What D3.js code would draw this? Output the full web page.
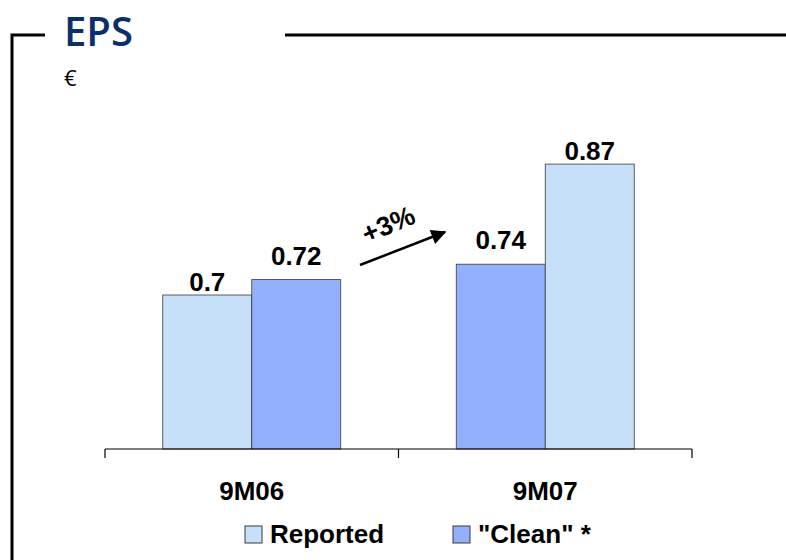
<!DOCTYPE html>
<html>
<head>
<meta charset="utf-8">
<script src="https://cdn.jsdelivr.net/npm/d3@7"></script>
<style>
  body { margin: 0; background: #fff; }
  svg { display: block; }
</style>
</head>
<body>
<script>
// chart data
var categories = ["9M06", "9M07"];
var seriesNames = ["Reported", "Clean"];
var legendLabels = ["Reported", "\"Clean\" *"];
var reported = [0.70, 0.87];
var clean = [0.72, 0.74];
var reportedText = ["0.7", "0.87"];
var cleanText = ["0.72", "0.74"];
// bar order inside each category, as drawn
var barOrder = [["Reported", "Clean"], ["Clean", "Reported"]];
var growthText = "+3%";

var svgWidth = 786;
var svgHeight = 560;

var colors = { Reported: "#c7e0f9", Clean: "#93b0fc" };
// gap between bar top and value label, per series
var labelGap = { Reported: 4, Clean: 15 };

var svg = d3.select("body")
  .append("svg")
  .attr("width", svgWidth)
  .attr("height", svgHeight);

// frame lines
svg.append("path")
  .attr("d", "M12,560 L12,35 L45,35")
  .attr("fill", "none")
  .attr("stroke", "#000")
  .attr("stroke-width", 3);
svg.append("line")
  .attr("x1", 285).attr("x2", 786)
  .attr("y1", 35).attr("y2", 35)
  .attr("stroke", "#000")
  .attr("stroke-width", 3);

// title
svg.append("text")
  .attr("x", 64)
  .attr("y", 46)
  .attr("font-family", "'Open Sans', sans-serif")
  .attr("font-weight", 600)
  .attr("font-size", 40)
  .attr("fill", "#0b2f6e")
  .text("EPS");

svg.append("text")
  .attr("x", 64)
  .attr("y", 86)
  .attr("font-family", "'Open Sans', sans-serif")
  .attr("font-size", 22)
  .attr("fill", "#000")
  .text("€");

// scales
var x = d3.scaleBand()
  .domain(categories)
  .range([105, 692])
  .padding(0);

var groupWidth = 178;
var xInner = d3.scaleBand()
  .domain([0, 1])
  .range([0, groupWidth]);

var y = d3.scaleLinear()
  .domain([0.5, 1.0])
  .range([449, 64]);

// build bars
var values = { Reported: reported, Clean: clean };
var texts = { Reported: reportedText, Clean: cleanText };
var bars = [];
categories.forEach(function(cat, i) {
  barOrder[i].forEach(function(s, j) {
    bars.push({
      cat: cat,
      series: s,
      pos: j,
      value: values[s][i],
      label: texts[s][i]
    });
  });
});

var font = "Arial, 'Liberation Sans', sans-serif";

function barX(d) {
  return x(d.cat) + x.bandwidth() / 2 - groupWidth / 2 + xInner(d.pos);
}

var barG = svg.append("g");
barG.selectAll("rect")
  .data(bars)
  .enter()
  .append("rect")
  .attr("x", barX)
  .attr("y", function(d) { return y(d.value); })
  .attr("width", xInner.bandwidth())
  .attr("height", function(d) { return y(0.5) - y(d.value); })
  .attr("fill", function(d) { return colors[d.series]; })
  .attr("stroke", "#3a3a3a")
  .attr("stroke-width", 0.8);

barG.selectAll("text")
  .data(bars)
  .enter()
  .append("text")
  .attr("x", function(d) { return barX(d) + xInner.bandwidth() / 2; })
  .attr("y", function(d) { return y(d.value) - labelGap[d.series]; })
  .attr("text-anchor", "middle")
  .attr("font-family", font)
  .attr("font-weight", "bold")
  .attr("font-size", 26)
  .text(function(d) { return d.label; });

// x axis: baseline and ticks at band edges
var axisG = svg.append("g");
axisG.append("line")
  .attr("x1", x.range()[0]).attr("x2", x.range()[1])
  .attr("y1", y(0.5)).attr("y2", y(0.5))
  .attr("stroke", "#000")
  .attr("stroke-width", 1.2);
var tickXs = categories.map(function(c) { return x(c); }).concat([x.range()[1]]);
axisG.selectAll("line.tick")
  .data(tickXs)
  .enter()
  .append("line")
  .attr("class", "tick")
  .attr("x1", function(d) { return d; }).attr("x2", function(d) { return d; })
  .attr("y1", y(0.5)).attr("y2", y(0.5) + 9)
  .attr("stroke", "#000")
  .attr("stroke-width", 1.2);
axisG.selectAll("text")
  .data(categories)
  .enter()
  .append("text")
  .attr("x", function(d) { return x(d) + x.bandwidth() / 2; })
  .attr("y", 500)
  .attr("text-anchor", "middle")
  .attr("font-family", font)
  .attr("font-weight", "bold")
  .attr("font-size", 26)
  .text(function(d) { return d; });

// growth arrow
svg.append("defs").append("marker")
  .attr("id", "arrowhead")
  .attr("viewBox", "0 0 10 10")
  .attr("refX", 9).attr("refY", 5)
  .attr("markerWidth", 7).attr("markerHeight", 6)
  .attr("markerUnits", "strokeWidth")
  .attr("orient", "auto")
  .append("path")
  .attr("d", "M0,0 L10,5 L0,10 Z")
  .attr("fill", "#000");

svg.append("line")
  .attr("x1", 360).attr("y1", 265)
  .attr("x2", 445).attr("y2", 232)
  .attr("stroke", "#000")
  .attr("stroke-width", 2.5)
  .attr("marker-end", "url(#arrowhead)");

svg.append("text")
  .attr("transform", "translate(392,233) rotate(-23)")
  .attr("text-anchor", "middle")
  .attr("font-family", font)
  .attr("font-weight", "bold")
  .attr("font-size", 27)
  .text(growthText);

// legend
var legendX = [245, 453];
var legend = svg.append("g");
seriesNames.forEach(function(s, i) {
  legend.append("rect")
    .attr("x", legendX[i]).attr("y", 526)
    .attr("width", 17).attr("height", 17)
    .attr("fill", colors[s])
    .attr("stroke", "#3a3a3a")
    .attr("stroke-width", 1);
  legend.append("text")
    .attr("x", legendX[i] + 25)
    .attr("y", 543)
    .attr("font-family", font)
    .attr("font-weight", "bold")
    .attr("font-size", 26)
    .text(legendLabels[i]);
});
</script>
</body>
</html>
